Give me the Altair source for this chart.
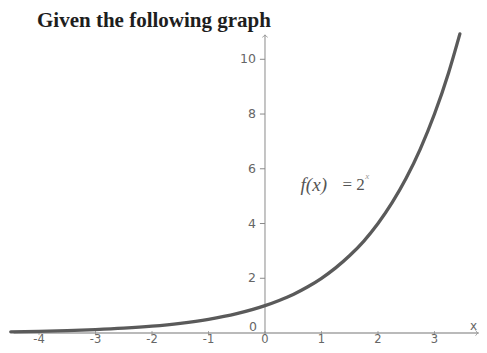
import altair as alt
import pandas as pd

# Data
x_ticks = [-4, -3, -2, -1, 0, 1, 2, 3]
x_tick_labels = ["-4", "-3", "-2", "-1", "0", "1", "2", "3"]
y_ticks = [2, 4, 6, 8, 10]
y_tick_labels = ["2", "4", "6", "8", "10"]
curve_x = [-4.5, -4, -3.5, -3, -2.5, -2, -1.5, -1, -0.5, 0, 0.25, 0.5, 0.75,
           1, 1.25, 1.5, 1.75, 2, 2.25, 2.5, 2.75, 3, 3.25, 3.45]
curve_y = [0.044, 0.0625, 0.088, 0.125, 0.177, 0.25, 0.354, 0.5, 0.707, 1.0,
           1.19, 1.41, 1.68, 2.0, 2.38, 2.83, 3.36, 4.0, 4.76, 5.66, 6.73,
           8.0, 9.51, 10.93]

W, H = 471, 337
xs = alt.Scale(domain=[-4.549, 3.788], nice=False, zero=False)
ys = alt.Scale(domain=[-0.438, 11.874], nice=False, zero=False)

def X(v):
    return alt.X(v, scale=xs, axis=None)

def Y(v):
    return alt.Y(v, scale=ys, axis=None)

base = alt.Chart(pd.DataFrame({"d": [0]}))
axis_col = "#8a8a8a"
lab_col = "#666666"

x_axis = base.mark_rule(color="#777777", strokeWidth=1.2).encode(
    x=alt.X("a:Q", scale=xs, axis=None), x2="b:Q", y=alt.Y("c:Q", scale=ys, axis=None)
).transform_calculate(a="-4.45", b="3.785", c="0")

y_axis = base.mark_rule(color=axis_col, strokeWidth=1).encode(
    x=alt.X("a:Q", scale=xs, axis=None), y=alt.Y("b:Q", scale=ys, axis=None), y2="c:Q"
).transform_calculate(a="0", b="0", c="10.9")

xt_df = pd.DataFrame({"x": x_ticks, "lab": x_tick_labels})
yt_df = pd.DataFrame({"y": y_ticks, "lab": y_tick_labels})

x_tick_marks = alt.Chart(xt_df).mark_tick(color=axis_col, size=4, thickness=1,
                                          orient="vertical").encode(
    x=X("x:Q"), y=alt.Y("z:Q", scale=ys, axis=None)
).transform_calculate(z="0")

x_tick_text = alt.Chart(xt_df).mark_text(font="DejaVu Sans", fontSize=11.5,
                                         color=lab_col, baseline="bottom",
                                         dy=11.5).encode(
    x=X("x:Q"), y=alt.Y("z:Q", scale=ys, axis=None), text="lab:N"
).transform_calculate(z="0")

y_tick_marks = alt.Chart(yt_df).mark_rule(color=axis_col, strokeWidth=1).encode(
    y=Y("y:Q"), x=alt.X("a:Q", scale=xs, axis=None), x2="b:Q"
).transform_calculate(a="-0.09", b="0")

y_tick_text = alt.Chart(yt_df).mark_text(font="DejaVu Sans", fontSize=12.5,
                                         color=lab_col, align="right",
                                         baseline="middle", dx=-9).encode(
    y=Y("y:Q"), x=alt.X("a:Q", scale=xs, axis=None), text="lab:N"
).transform_calculate(a="0")

origin_text = base.mark_text(font="DejaVu Sans", fontSize=12.5, color=lab_col,
                             align="right", baseline="middle", dx=-8, dy=-6).encode(
    x=alt.X("a:Q", scale=xs, axis=None), y=alt.Y("b:Q", scale=ys, axis=None),
    text=alt.value("0")
).transform_calculate(a="0", b="0")

x_name = base.mark_text(font="DejaVu Sans", fontSize=12, color=lab_col,
                        baseline="middle", dy=-7).encode(
    x=alt.X("a:Q", scale=xs, axis=None), y=alt.Y("b:Q", scale=ys, axis=None),
    text=alt.value("x")
).transform_calculate(a="3.69", b="0")

arrow_path = "M-1,0.8 L0,0 L1,0.8"
y_arrow = base.mark_point(shape=arrow_path, filled=False, color=axis_col,
                          size=30, strokeWidth=1).encode(
    x=alt.X("a:Q", scale=xs, axis=None), y=alt.Y("b:Q", scale=ys, axis=None)
).transform_calculate(a="0", b="10.88")

x_arrow = base.mark_point(shape=arrow_path, filled=False, color=axis_col,
                          size=30, strokeWidth=1, angle=90).encode(
    x=alt.X("a:Q", scale=xs, axis=None), y=alt.Y("b:Q", scale=ys, axis=None)
).transform_calculate(a="3.765", b="0")

curve = alt.Chart(pd.DataFrame({"x": curve_x, "y": curve_y})).mark_line(
    color="#5a5a5a", strokeWidth=3.3, interpolate="monotone", strokeCap="round"
).encode(x=X("x:Q"), y=Y("y:Q"))

f_lab = base.mark_text(font="Liberation Serif", fontSize=19, fontStyle="italic",
                       color="#555555", align="left", baseline="middle").encode(
    x=alt.X("a:Q", scale=xs, axis=None), y=alt.Y("b:Q", scale=ys, axis=None),
    text=alt.value("f(x)")
).transform_calculate(a="0.63", b="5.4")

eq_lab = base.mark_text(font="Liberation Serif", fontSize=17, color="#555555",
                        align="left", baseline="middle").encode(
    x=alt.X("a:Q", scale=xs, axis=None), y=alt.Y("b:Q", scale=ys, axis=None),
    text=alt.value("= 2")
).transform_calculate(a="1.37", b="5.4")

sup_lab = base.mark_text(font="Liberation Serif", fontSize=9, fontStyle="italic",
                         color="#999999", align="left", baseline="middle").encode(
    x=alt.X("a:Q", scale=xs, axis=None), y=alt.Y("b:Q", scale=ys, axis=None),
    text=alt.value("x")
).transform_calculate(a="1.775", b="5.72")

title = base.mark_text(font="Liberation Serif", fontSize=21, fontWeight="bold",
                       color="#1e1e1e", align="left", baseline="alphabetic").encode(
    x=alt.value(29), y=alt.value(19), text=alt.value("Given the following graph")
)

chart = alt.layer(
    x_axis, y_axis, x_tick_marks, y_tick_marks, x_tick_text, y_tick_text,
    origin_text, x_name, y_arrow, x_arrow, curve, f_lab, eq_lab, sup_lab, title
).properties(
    width=W, height=H, padding=0, autosize=alt.AutoSizeParams(type="none"),
    background="white"
).configure_view(stroke=None)

chart.save("out.html", embed_options={"renderer": "svg", "actions": False})
